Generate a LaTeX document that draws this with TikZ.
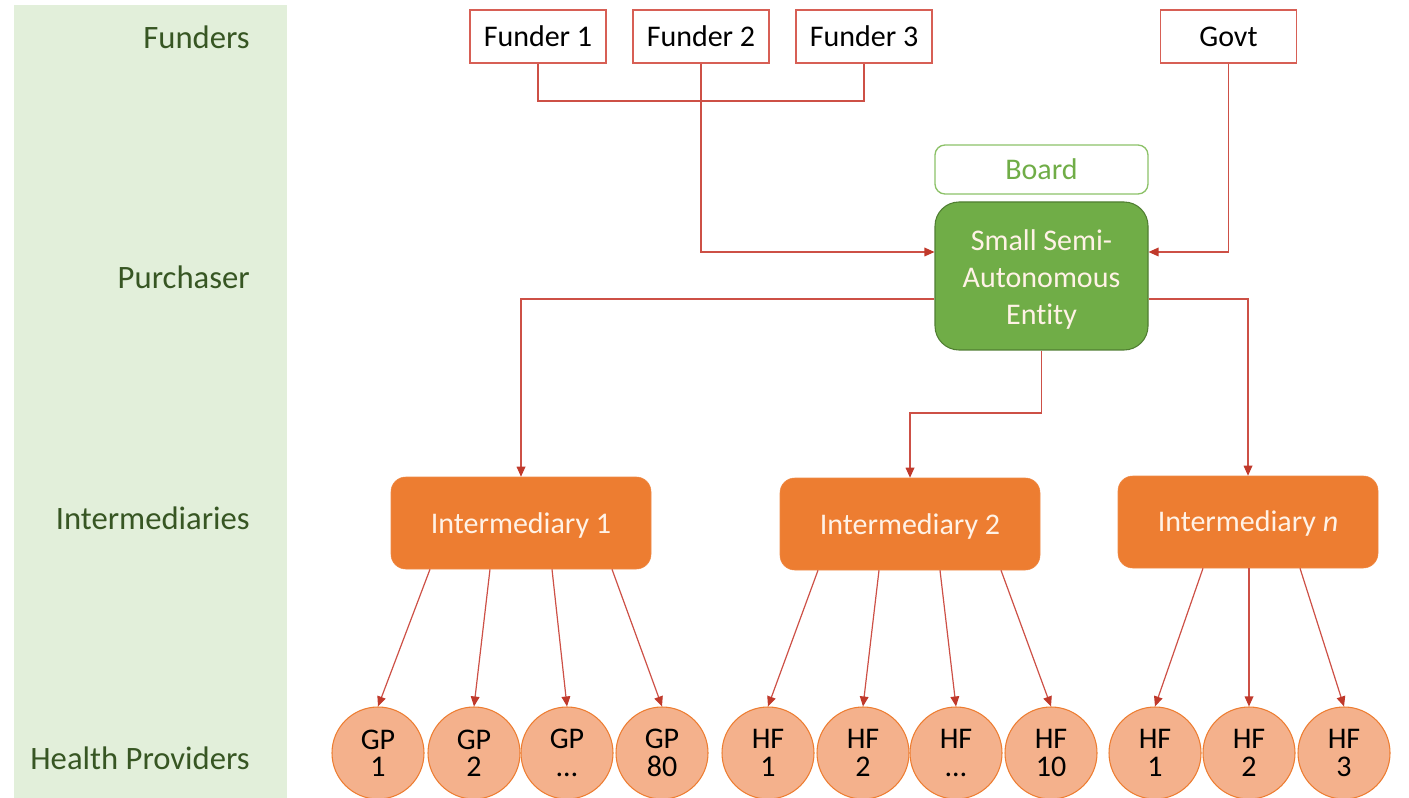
\documentclass[tikz,border=0pt]{standalone}
\usepackage{fontspec}
\setmainfont{Carlito}[Ligatures=NoCommon]
\usetikzlibrary{arrows.meta}
\definecolor{panel}{RGB}{226,239,218}
\definecolor{paneltext}{RGB}{55,86,35}
\definecolor{redline}{RGB}{205,80,70}
\definecolor{redbox}{RGB}{215,95,85}
\definecolor{redtip}{RGB}{192,57,43}
\definecolor{greenfill}{RGB}{112,173,71}
\definecolor{greenborder}{RGB}{80,126,50}
\definecolor{boardborder}{RGB}{140,193,104}
\definecolor{orangefill}{RGB}{237,125,49}
\definecolor{circfill}{RGB}{244,177,140}
\definecolor{circborder}{RGB}{237,125,49}
\definecolor{inttext}{RGB}{255,242,230}
\newcommand{\lowertext}[2]{\raisebox{-#1}[\height][\depth]{#2}}
\tikzset{
  x=0.75pt, y=-0.75pt,
  sidelabel/.style={anchor=east, text=paneltext, font=\fontsize{24.5}{28}\selectfont, inner sep=0pt},
  funderbox/.style={draw=redbox, line width=1pt, fill=white, minimum width=102pt, minimum height=39.75pt, inner sep=0pt, font=\fontsize{22.5}{27}\selectfont},
  boardbox/.style={draw=boardborder, line width=1pt, rounded corners=7.5pt, minimum width=159.75pt, minimum height=36.75pt, inner sep=0pt, text=greenfill, font=\fontsize{22.5}{27}\selectfont},
  ssaebox/.style={draw=greenborder, line width=0.8pt, fill=greenfill, rounded corners=18pt, minimum width=159.75pt, minimum height=111pt, inner sep=0pt, text=inttext, font=\fontsize{22.5}{27.75}\selectfont},
  intbox/.style={fill=orangefill, draw=orangefill!90!white, rounded corners=11pt, minimum width=195pt, minimum height=69pt, inner sep=0pt, text=inttext, font=\fontsize{22.5}{27}\selectfont},
  provider/.style={circle, fill=circfill, draw=circborder, line width=0.8pt, minimum size=69pt, inner sep=0pt, align=center, font=\fontsize{22.5}{20.5}\selectfont},
  conn/.style={draw=redline, line width=0.9pt},
  arr/.style={conn, -{Triangle[length=7.5pt,width=6.5pt,fill=redtip,color=redtip]}},
}
\begin{document}
\begin{tikzpicture}
\useasboundingbox (0,0) rectangle (1409,798);
% side panel
\fill[panel] (14,5) rectangle (287,798);
\node[sidelabel] (lf) at (250,37) {Funders};
\node[sidelabel] (lp) at (250,277) {Purchaser};
\node[sidelabel] (li) at (250,518) {Intermediaries};
\node[sidelabel] (lh) at (250,758) {Health Providers};

% funders
\node[funderbox] (f1) at (538,36.5) {Funder 1};
\node[funderbox] (f2) at (701,36.5) {Funder 2};
\node[funderbox] (f3) at (864,36.5) {Funder 3};
\node[funderbox] (govt) at (1228.5,36.5) {Govt};

% purchaser
\node[boardbox] (board) at (1041.5,169.5) {Board};
\node[ssaebox] (ssae) at (1041.5,276) {\lowertext{3pt}{\parbox{150pt}{\centering Small Semi-\\Autonomous\\Entity}}};

% intermediaries
\node[intbox] (int1) at (521,523) {\lowertext{1.5pt}{Intermediary 1}};
\node[intbox] (int2) at (910,524) {\lowertext{1.5pt}{Intermediary 2}};
\node[intbox] (intn) at (1248,522) {\lowertext{1pt}{Intermediary \textit{n}}};

% providers
\node[provider] (gp1) at (378,753) {GP\\1};
\node[provider] (gp2) at (474,753) {GP\\2};
\node[provider] (gp3) at (567,753) {GP\\\dots};
\node[provider] (gp4) at (662,753) {GP\\80};
\node[provider] (hfa1) at (768,753) {HF\\1};
\node[provider] (hfa2) at (863,753) {HF\\2};
\node[provider] (hfa3) at (956,753) {HF\\\dots};
\node[provider] (hfa4) at (1051,753) {HF\\10};
\node[provider] (hfb1) at (1155,753) {HF\\1};
\node[provider] (hfb2) at (1249,753) {HF\\2};
\node[provider] (hfb3) at (1344,753) {HF\\3};

% helper levels
\coordinate (fy) at (0,101);
\coordinate (iny) at (0,252);
\coordinate (outy) at (0,299);
\coordinate (midy) at (0,413);

% funder connectors
\draw[conn] (f1.south) -- (f1.south |- fy) -- (f3.south |- fy) -- (f3.south);
\draw[arr] (f2.south) |- (iny -| ssae.west);
\draw[arr] (govt.south) |- (iny -| ssae.east);

% purchaser to intermediaries
\draw[arr] (outy -| ssae.west) -| (int1.north);
\draw[arr] (outy -| ssae.east) -| (intn.north);
\draw[arr] (ssae.south) -- (ssae.south |- midy) -| (int2.north);

% intermediaries to providers
\draw[arr] ([xshift=-68.25pt]int1.south) -- (gp1.north);
\draw[arr] ([xshift=-23.25pt]int1.south) -- (gp2.north);
\draw[arr] ([xshift=23.25pt]int1.south) -- (gp3.north);
\draw[arr] ([xshift=68.25pt]int1.south) -- (gp4.north);
\draw[arr] ([xshift=-69pt]int2.south) -- (hfa1.north);
\draw[arr] ([xshift=-23.25pt]int2.south) -- (hfa2.north);
\draw[arr] ([xshift=22.5pt]int2.south) -- (hfa3.north);
\draw[arr] ([xshift=68.25pt]int2.south) -- (hfa4.north);
\draw[arr] ([xshift=-33.75pt]intn.south) -- (hfb1.north);
\draw[arr] ([xshift=0.75pt]intn.south) -- (hfb2.north);
\draw[arr] ([xshift=39pt]intn.south) -- (hfb3.north);
\end{tikzpicture}
\end{document}
